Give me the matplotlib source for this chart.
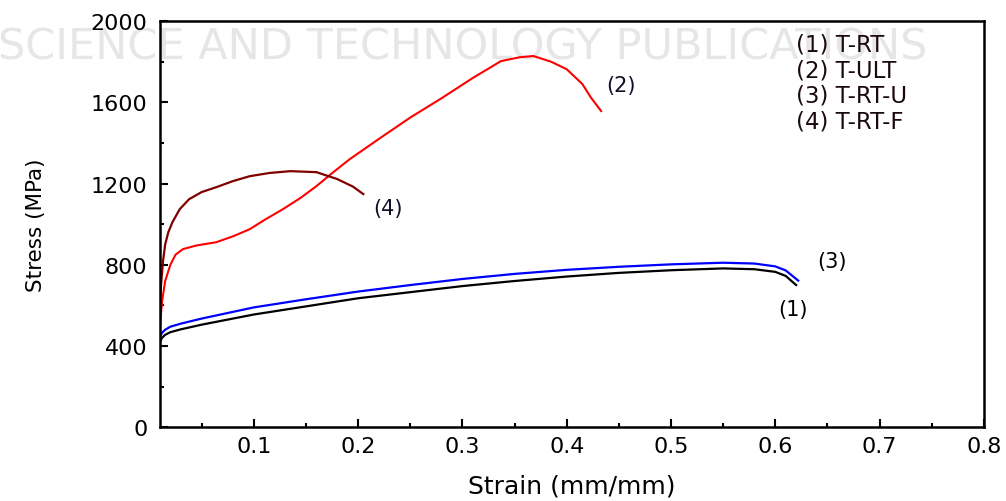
import matplotlib.pyplot as plt
from matplotlib.ticker import MultipleLocator

# (1) T-RT
strain_1 = [0.01, 0.012, 0.015, 0.02, 0.03, 0.05, 0.1, 0.15, 0.2, 0.25, 0.3, 0.35, 0.4, 0.45, 0.5, 0.55, 0.58, 0.6, 0.61, 0.62]
stress_1 = [420, 440, 455, 468, 482, 505, 555, 595, 635, 665, 695, 720, 742, 760, 773, 782, 778, 765, 745, 700]
# (3) T-RT-U
strain_3 = [0.01, 0.012, 0.015, 0.02, 0.03, 0.05, 0.1, 0.15, 0.2, 0.25, 0.3, 0.35, 0.4, 0.45, 0.5, 0.55, 0.58, 0.6, 0.61, 0.622]
stress_3 = [445, 465, 480, 495, 510, 535, 590, 630, 668, 700, 730, 755, 775, 790, 802, 810, 806, 792, 772, 722]
# (2) T-ULT
strain_2 = [0.01, 0.012, 0.015, 0.02, 0.025, 0.032, 0.045, 0.064, 0.08, 0.096, 0.11, 0.128, 0.145, 0.16,
            0.176, 0.192, 0.22, 0.25, 0.28, 0.31, 0.337, 0.355, 0.368, 0.385, 0.40, 0.415, 0.423, 0.433]
stress_2 = [500, 620, 720, 800, 850, 877, 895, 911, 940, 975, 1020, 1074, 1130, 1187,
            1255, 1320, 1420, 1525, 1620, 1720, 1803, 1822, 1828, 1800, 1763, 1690, 1625, 1557]
# (4) T-RT-F
strain_4 = [0.01, 0.011, 0.013, 0.015, 0.018, 0.022, 0.029, 0.038, 0.05, 0.064, 0.08, 0.096, 0.115, 0.135, 0.16, 0.18, 0.195, 0.205]
stress_4 = [600, 700, 820, 900, 960, 1010, 1074, 1123, 1158, 1182, 1212, 1236, 1252, 1261, 1256, 1222, 1185, 1148]

legend_lines = ['(1) T-RT', '(2) T-ULT', '(3) T-RT-U', '(4) T-RT-F']
xtick_vals = [0.1, 0.2, 0.3, 0.4, 0.5, 0.6, 0.7, 0.8]

plt.rcParams['font.family'] = ['DejaVu Sans']

fig = plt.figure(figsize=(10.06, 5.02), dpi=100)
ax = fig.add_axes([0.159, 0.147, 0.819, 0.809])
ax.set_facecolor('none')

# faint watermark behind the plot
fig.text(0.46, 0.905, 'SCIENCE AND TECHNOLOGY PUBLICATIONS', fontsize=31, color='#e6e6e6',
         ha='center', va='center', zorder=-1)

ax.plot(strain_1, stress_1, color='black', lw=1.6)
ax.plot(strain_3, stress_3, color='#0000ff', lw=1.6)
ax.plot(strain_2, stress_2, color='#ff0000', lw=1.5)
ax.plot(strain_4, stress_4, color='#800000', lw=1.6)

ax.set_xlim(0.01, 0.8)
ax.set_ylim(0, 2000)
ax.set_xticks(xtick_vals)
ax.set_xticklabels([str(v) for v in xtick_vals])
ax.xaxis.set_minor_locator(MultipleLocator(0.05))
ax.yaxis.set_major_locator(MultipleLocator(400))
ax.yaxis.set_minor_locator(MultipleLocator(200))
ax.tick_params(which='both', direction='in', labelsize=16, width=1.5)
ax.tick_params(which='major', length=6)
ax.tick_params(which='minor', length=3)
ax.tick_params(axis='x', which='major', pad=6)
ax.tick_params(axis='y', which='major', pad=9)
for s in ax.spines.values():
    s.set_linewidth(1.8)

ax.set_xlabel('Strain (mm/mm)', fontsize=18, labelpad=13)
ax.set_ylabel('Stress (MPa)', fontsize=15.5, labelpad=32)

for i, t in enumerate(legend_lines):
    ax.text(0.772, 0.944 - i * 0.0635, t, transform=ax.transAxes, fontsize=16.5,
            color='#1a0a10', ha='left', va='center')

ax.text(0.452, 1685, '(2)', fontsize=15, ha='center', va='center', color='#10102a')
ax.text(0.229, 1079, '(4)', fontsize=15, ha='center', va='center', color='#10102a')
ax.text(0.654, 818, '(3)', fontsize=15, ha='center', va='center')
ax.text(0.617, 581, '(1)', fontsize=15, ha='center', va='center')

fig.savefig('out.png', dpi=100)
